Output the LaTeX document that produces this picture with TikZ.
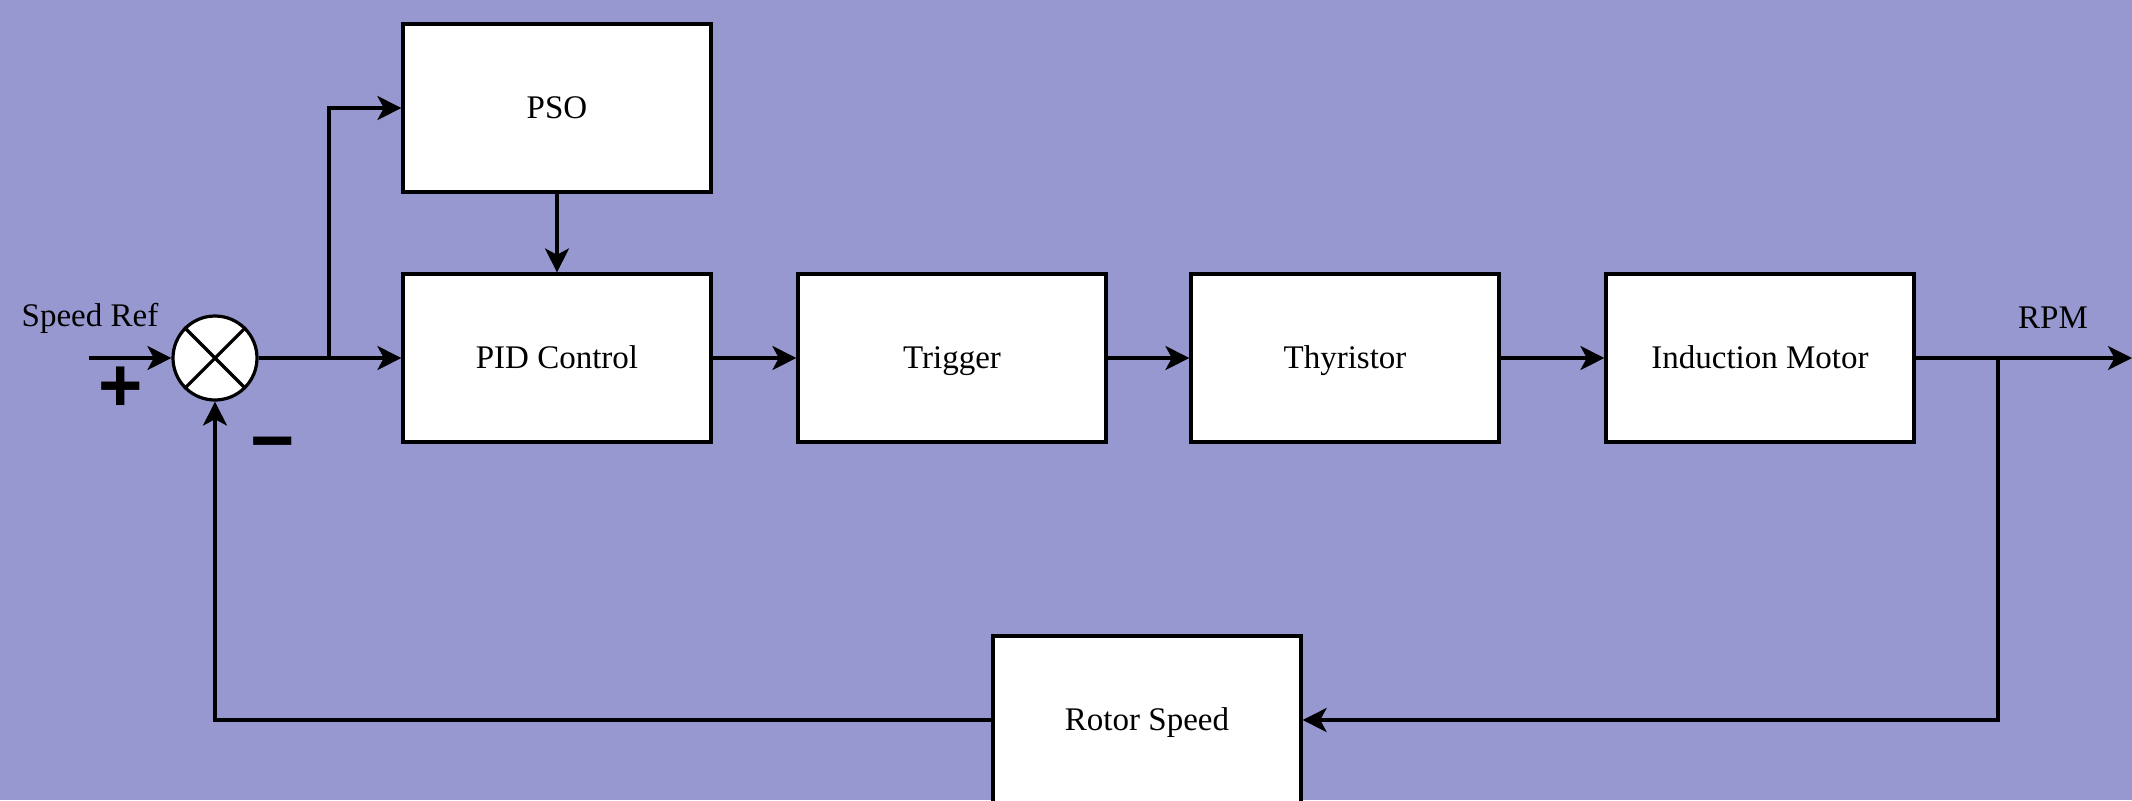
\documentclass[tikz,border=0pt]{standalone}
\usepackage{fontspec}
\setmainfont{Liberation Serif}
\newfontfamily\signfont{Liberation Sans}
\usetikzlibrary{arrows.meta}
\definecolor{bgcol}{RGB}{152,152,208}
\begin{document}
\begin{tikzpicture}[x=0.5pt,y=-0.5pt,
  blk/.style={draw=black, fill=white, line width=1.6pt, minimum width=154pt, minimum height=84pt, inner sep=0pt, text height=12.5pt, text depth=2pt, font=\fontsize{16.5}{19}\selectfont},
  lbl/.style={inner sep=0pt, font=\fontsize{16.5}{19}\selectfont},
  sgn/.style={inner sep=0pt, font=\signfont\bfseries\fontsize{38}{40}\selectfont},
  conn/.style={line width=1.6pt, draw=black},
  arr/.style={conn, -{Stealth[length=12pt, width=12pt, inset=3.2pt]}}]
\fill[bgcol] (0,0) rectangle (2132,800);
\useasboundingbox (0,0) rectangle (2132,800);
% summing junction
\node[circle, draw=black, fill=white, line width=1.6pt, minimum size=42pt, inner sep=0pt] (s) at (215,358) {};
\draw[line width=1.6pt] (s.north east) -- (s.south west) (s.north west) -- (s.south east);
% blocks
\node[blk] (pso) at (557,108) {PSO};
\node[blk] (pid) at (557,358) {PID Control};
\node[blk] (trig) at (952,358) {Trigger};
\node[blk] (thy) at (1345,358) {Thyristor};
\node[blk] (im) at (1760,358) {Induction Motor};
\node[blk] (rot) at (1147,720) {Rotor Speed};
% labels
\node[lbl] (sref) at (90,318) {Speed Ref};
\node[lbl] (rpm) at (2053,318) {RPM};
\node[sgn] (plus) at (121,389) {+};
\node[sgn] (minus) at (273,452) {−};
% coordinates
\coordinate (in) at (89,358);
\coordinate (br1) at (329,358);
\coordinate (br2) at (1998,358);
\coordinate (out) at (2132,358);
% connectors
\draw[arr] (in) -- (s.west);
\draw[arr] (s.east) -- (pid.west);
\draw[arr] (br1) |- (pso.west);
\draw[arr] (pso.south) -- (pid.north);
\draw[arr] (pid.east) -- (trig.west);
\draw[arr] (trig.east) -- (thy.west);
\draw[arr] (thy.east) -- (im.west);
\draw[arr] (im.east) -- (out);
\draw[arr] (br2) |- (rot.east);
\draw[arr] (rot.west) -| (s.south);
\end{tikzpicture}
\end{document}
